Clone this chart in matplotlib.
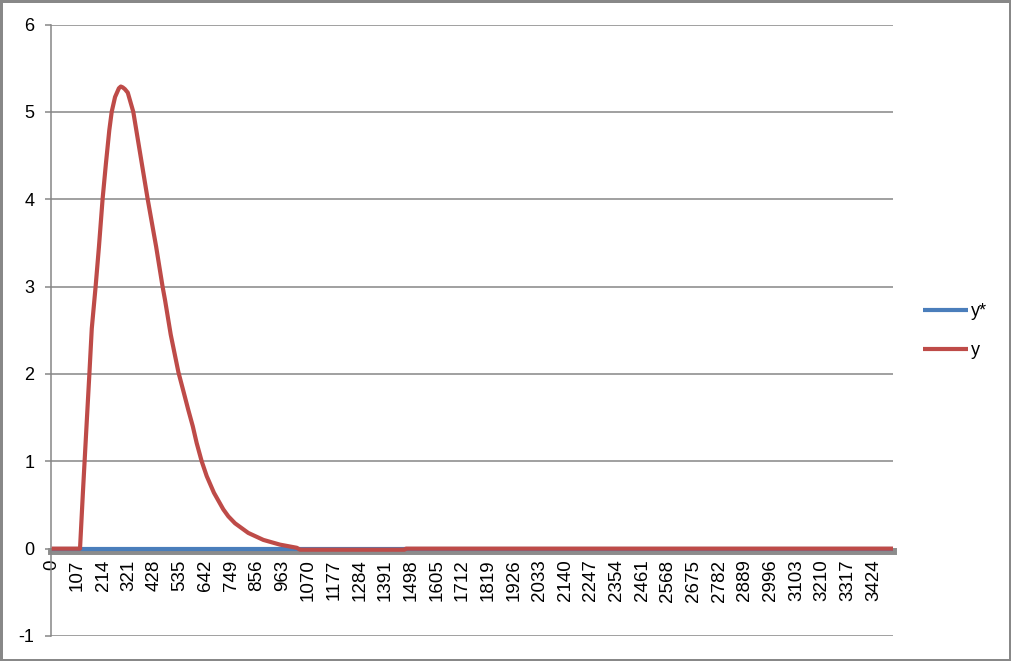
import matplotlib
matplotlib.use('Agg')
import matplotlib.pyplot as plt
from matplotlib.patches import Rectangle

plt.rcParams['font.family'] = ['Liberation Sans', 'DejaVu Sans']
plt.rcParams['axes.unicode_minus'] = False

# y* stays at zero over the whole run
ystar_x = [0, 3507]
ystar_v = [0, 0]

# y (sample index, value)
y_x = [0, 118, 130, 145, 157, 167, 183, 197, 212, 226, 240, 250, 264, 280, 288, 296,
       305, 317, 340, 364, 400, 435, 462, 472, 496, 528, 551, 569, 588, 604, 625, 646,
       676, 715, 736, 764, 819, 882, 951, 1021, 1035, 1470, 1476, 3507]
y_v = [0, 0, 0.64, 1.40, 2.00, 2.52, 3.00, 3.46, 4.00, 4.41, 4.79, 5.00, 5.17, 5.27, 5.29, 5.28,
       5.26, 5.22, 5.00, 4.60, 4.00, 3.46, 3.00, 2.85, 2.45, 2.02, 1.78, 1.59, 1.40, 1.21, 1.00, 0.83,
       0.64, 0.45, 0.37, 0.29, 0.18, 0.10, 0.046, 0.01, -0.012, -0.012, 0, 0]

xticks = [0, 107, 214, 321, 428, 535, 642, 749, 856, 963, 1070, 1177, 1284, 1391,
          1498, 1605, 1712, 1819, 1926, 2033, 2140, 2247, 2354, 2461, 2568, 2675,
          2782, 2889, 2996, 3103, 3210, 3317, 3424]
yticks = [-1, 0, 1, 2, 3, 4, 5, 6]

W, H = 1011, 661
fig = plt.figure(figsize=(W / 100, H / 100), dpi=100)
ax = fig.add_axes([50.5 / W, (H - 636) / H, (893.3 - 50.5) / W, (636 - 24.5) / H])

grey = '#868686'
# axis crosses at zero, set before the ticks (set_position resets them)
for s in ['top', 'right']:
    ax.spines[s].set_visible(False)
ax.spines['left'].set_color(grey)
ax.spines['left'].set_linewidth(1.1)
ax.spines['bottom'].set_position(('data', -0.03))
ax.spines['bottom'].set_color('#8C8C8C')
ax.spines['bottom'].set_linewidth(5)
ax.spines['bottom'].set_zorder(2)

ax.plot(ystar_x, ystar_v, color='#4A7EBB', lw=3.0, label='y*', solid_capstyle='butt', zorder=3)
ax.plot(y_x, y_v, color='#BE4B48', lw=3.0, label='y', solid_capstyle='butt',
        solid_joinstyle='round', zorder=4)

ax.set_xlim(-5, 3507)
ax.set_ylim(-1, 6)
ax.set_yticks(yticks)
ax.set_xticks(xticks)
ax.set_xticklabels([str(t) for t in xticks])

ax.yaxis.grid(True, color=grey, lw=1.1, zorder=0)
ax.set_axisbelow(True)

ax.tick_params(axis='y', length=4.5, color=grey, width=1.1, pad=7, labelsize=13)
ax.tick_params(axis='x', length=0, pad=6, labelsize=13.5, labelrotation=90)

ax.legend(loc='center left', bbox_to_anchor=(907 / W, 1 - 331 / H),
          bbox_transform=fig.transFigure, frameon=False, fontsize=13,
          handlelength=2.5, handletextpad=0.15, labelspacing=1.2)

fig.patches.append(Rectangle((0, 0), 1, 1, transform=fig.transFigure, fill=False,
                             edgecolor='#888888', lw=3.6))

fig.savefig('out.png', dpi=100)
